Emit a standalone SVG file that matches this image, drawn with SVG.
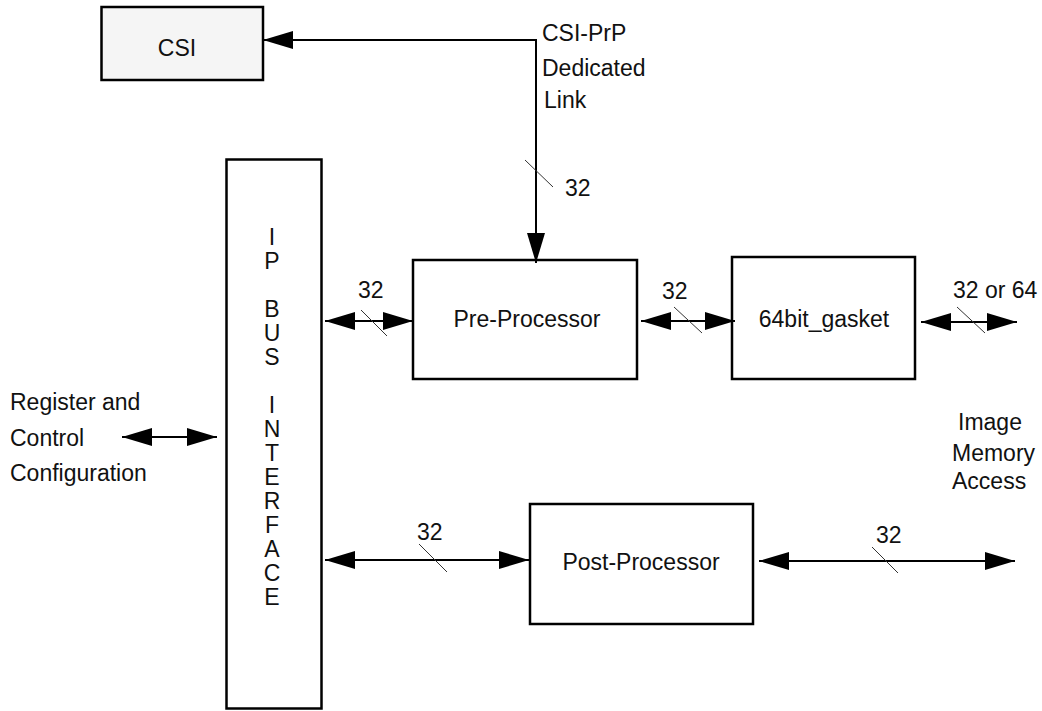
<svg xmlns="http://www.w3.org/2000/svg" width="1042" height="711" viewBox="0 0 1042 711">
<style>
text{font-family:"Liberation Sans",Arial,sans-serif;font-size:23px;fill:#111}
.box{fill:#fff;stroke:#000;stroke-width:2.5}
.mid{text-anchor:middle}
.conn{fill:none;stroke:#000;stroke-width:2}
.tick{stroke:#333;stroke-width:1}
</style>
<defs>
<marker id="ah" viewBox="0 0 30 18" refX="30" refY="9" markerWidth="30" markerHeight="18" markerUnits="userSpaceOnUse" orient="auto-start-reverse">
<path d="M0,0 L30,9 L0,18 z" fill="#000"/>
</marker>
</defs>
<rect width="1042" height="711" fill="#fff"/>
<g id="csi">
<rect class="box" x="101.5" y="7" width="161.5" height="73" style="fill:#f5f5f5"/>
<text class="mid" x="177" y="56">CSI</text>
</g>
<g id="ipbus">
<rect class="box" x="226.5" y="159.5" width="95" height="549"/>
<text class="mid" x="272" y="245">I</text>
<text class="mid" x="272" y="269">P</text>
<text class="mid" x="272" y="317">B</text>
<text class="mid" x="272" y="341">U</text>
<text class="mid" x="272" y="365">S</text>
<text class="mid" x="272" y="413">I</text>
<text class="mid" x="272" y="437">N</text>
<text class="mid" x="272" y="461">T</text>
<text class="mid" x="272" y="485">E</text>
<text class="mid" x="272" y="509">R</text>
<text class="mid" x="272" y="533">F</text>
<text class="mid" x="272" y="557">A</text>
<text class="mid" x="272" y="581">C</text>
<text class="mid" x="272" y="605">E</text>
</g>
<g id="preprocessor">
<rect class="box" x="413" y="260" width="224" height="119"/>
<text class="mid" x="527" y="327">Pre-Processor</text>
</g>
<g id="gasket">
<rect class="box" x="732" y="257" width="183" height="122"/>
<text class="mid" x="824" y="327">64bit_gasket</text>
</g>
<g id="postprocessor">
<rect class="box" x="530" y="504" width="223" height="120"/>
<text class="mid" x="641" y="570">Post-Processor</text>
</g>
<g id="labels">
<text x="542" y="41">CSI-PrP</text>
<text x="542" y="76">Dedicated</text>
<text x="544" y="108">Link</text>
<text x="10" y="410">Register and</text>
<text x="10" y="446">Control</text>
<text x="10" y="481">Configuration</text>
<text x="958" y="430">Image</text>
<text x="952" y="461">Memory</text>
<text x="952" y="489">Access</text>
</g>
<g id="connectors">
<path class="conn" d="M536,263 L536,40 L263,40" marker-start="url(#ah)" marker-end="url(#ah)"/>
<path class="conn" d="M325,321 L413,321" marker-start="url(#ah)" marker-end="url(#ah)"/>
<path class="conn" d="M641,321 L735,321" marker-start="url(#ah)" marker-end="url(#ah)"/>
<path class="conn" d="M921,322 L1017,322" marker-start="url(#ah)" marker-end="url(#ah)"/>
<path class="conn" d="M122,437 L217,437" marker-start="url(#ah)" marker-end="url(#ah)"/>
<path class="conn" d="M325,560 L529,560" marker-start="url(#ah)" marker-end="url(#ah)"/>
<path class="conn" d="M759,561 L1015,561" marker-start="url(#ah)" marker-end="url(#ah)"/>
<line class="tick" x1="525" y1="160" x2="553" y2="187"/>
<line class="tick" x1="361" y1="310" x2="387" y2="336"/>
<line class="tick" x1="674" y1="307" x2="702" y2="333"/>
<line class="tick" x1="957" y1="307" x2="985" y2="333"/>
<line class="tick" x1="419" y1="544" x2="447" y2="572"/>
<line class="tick" x1="872" y1="547" x2="898" y2="573"/>
<text x="565" y="196">32</text>
<text x="358" y="298">32</text>
<text x="662" y="299">32</text>
<text x="953" y="298">32 or 64</text>
<text x="417" y="540">32</text>
<text x="876" y="543">32</text>
</g>
</svg>
